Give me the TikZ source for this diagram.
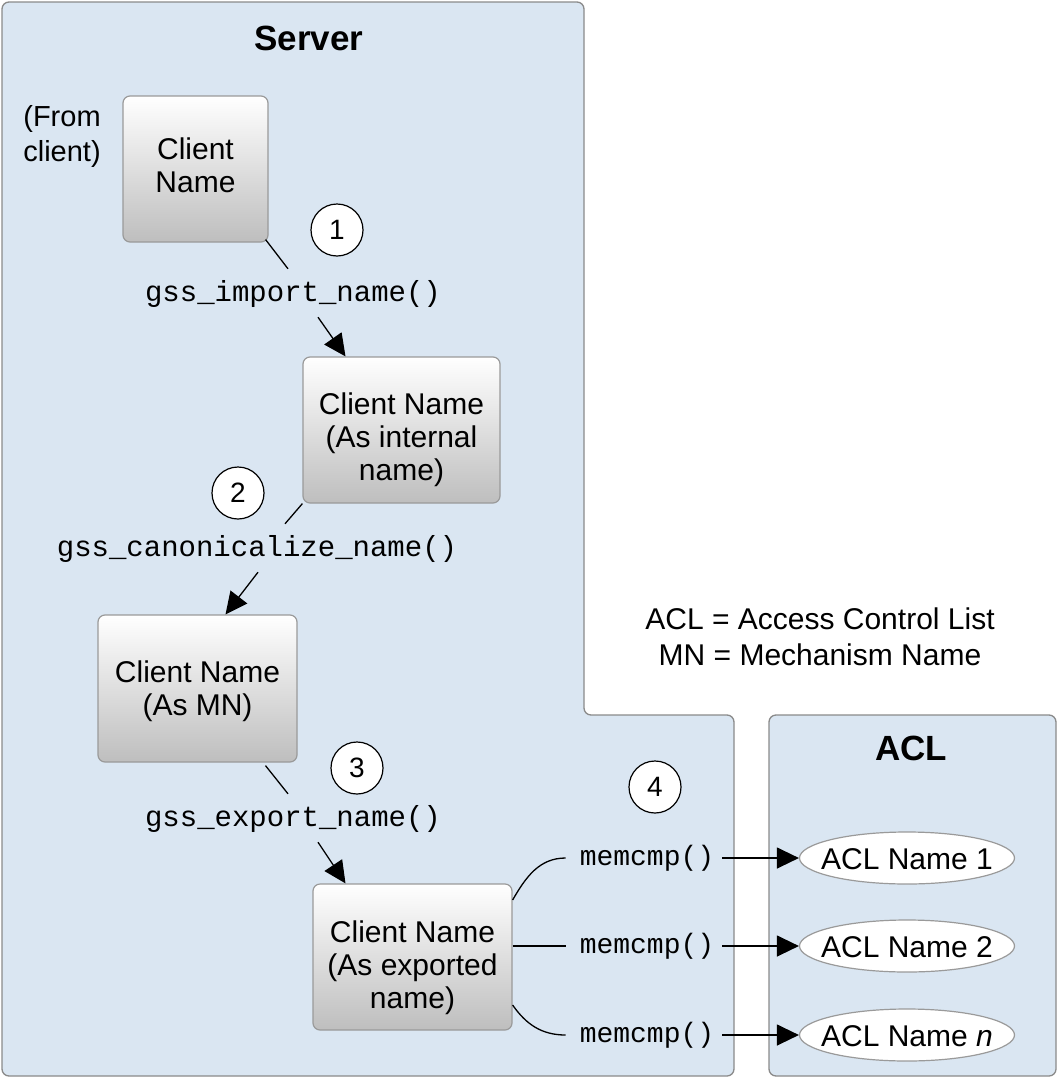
\documentclass[tikz,border=0pt]{standalone}
\usepackage{fontspec}
\setmainfont{Liberation Sans}
\setmonofont{Liberation Mono}
\usetikzlibrary{arrows.meta,shapes.geometric}
\definecolor{bgblue}{HTML}{DAE6F2}
\definecolor{framegray}{HTML}{8A8A8A}
\definecolor{boxedge}{HTML}{9A9A9A}
\definecolor{boxbot}{HTML}{BEBEBE}
\begin{document}
\begin{tikzpicture}[x=1pt,y=-1pt,
  region/.style={fill=bgblue,draw=framegray,line width=1.3pt,rounded corners=7pt},
  namebox/.style={rectangle,rounded corners=7pt,draw=boxedge,line width=1.2pt,
    top color=white,bottom color=boxbot,inner sep=0pt},
  boxtext/.style={align=center,font=\fontsize{30}{33}\selectfont,inner sep=0pt},
  fnlabel/.style={font=\ttfamily\fontsize{29}{33}\selectfont,inner sep=0pt,
    text height=20pt,text depth=6pt},
  cmplabel/.style={font=\ttfamily\fontsize{28}{33}\selectfont,inner sep=0pt,
    text height=20pt,text depth=6pt},
  stepnum/.style={circle,draw=black,fill=white,line width=1.2pt,minimum size=52pt,
    inner sep=0pt,font=\fontsize{28}{30}\selectfont},
  aclname/.style={ellipse,draw=boxedge,fill=white,line width=1.2pt,minimum width=215pt,
    minimum height=52pt,inner sep=0pt,text height=2pt,text depth=0pt,
    font=\fontsize{30}{33}\selectfont},
  conn/.style={draw=black,line width=1.3pt},
  arr/.style={draw=black,line width=1.3pt,-{Triangle[length=22pt,width=21pt]}},
  titletext/.style={font=\bfseries\fontsize{35}{40}\selectfont},
  plaintext/.style={align=center,font=\fontsize{30}{36}\selectfont}
]
\useasboundingbox (0,0) rectangle (1058,1079);
% regions
\path[region] (2,2) -- (584,2) -- (584,715) -- (734,715) -- (734,1076) -- (2,1076) -- cycle;
\path[region] (769,715) rectangle (1056,1076);
\node[titletext] (servertitle) at (309,38) {Server};
\node[titletext] (acltitle) at (911,748) {ACL};

% boxes
\node[namebox,minimum width=145pt,minimum height=146pt] (b1) at (195.5,169) {};
\node[namebox,minimum width=197pt,minimum height=146pt] (b2) at (401.5,430) {};
\node[namebox,minimum width=199pt,minimum height=147pt] (b3) at (197.5,688.5) {};
\node[namebox,minimum width=199pt,minimum height=146pt] (b4) at (412.5,957) {};
\node[boxtext] (t1) at ([yshift=4pt]b1.center) {Client\\Name};
\node[boxtext] (t2) at ([yshift=-10pt]b2.center) {Client Name\\(As internal\\name)};
\node[boxtext] (t3) at ([yshift=-3pt]b3.center) {Client Name\\(As MN)};
\node[boxtext] (t4) at ([yshift=-11pt]b4.center) {Client Name\\(As exported\\name)};

\node[align=center,font=\fontsize{29}{35}\selectfont,inner sep=0pt] (from) at (62,136) {(From\\client)};

% step circles
\node[stepnum] (s1) at (337,230) {1};
\node[stepnum] (s2) at (238,493) {2};
\node[stepnum] (s3) at (357,768) {3};
\node[stepnum] (s4) at (655,787) {4};

% function labels
\node[fnlabel] (g1) at (293,294) {gss\_import\_name()};
\node[fnlabel] (g2) at (257,549) {gss\_canonicalize\_name()};
\node[fnlabel] (g3) at (293,819) {gss\_export\_name()};

% connectors
\draw[conn] ([xshift=-3pt,yshift=3pt]b1.south east) -- ([xshift=-5pt,yshift=12pt]g1.north);
\draw[arr] ([xshift=25pt,yshift=-10pt]g1.south) -- ([xshift=-56pt]b2.north);
\draw[conn] (b2.south west) -- ([xshift=28pt,yshift=12pt]g2.north);
\draw[arr] ([xshift=1pt,yshift=-10pt]g2.south) -- ([xshift=28pt]b3.north);
\draw[conn] ([xshift=68pt,yshift=-3pt]b3.south) -- ([xshift=-5pt,yshift=12pt]g3.north);
\draw[arr] ([xshift=25pt,yshift=-10pt]g3.south) -- ([xshift=-67pt]b4.north);

% memcmp
\node[cmplabel] (m1) at (647,858) {memcmp()};
\node[cmplabel] (m2) at (647,946) {memcmp()};
\node[cmplabel] (m3) at (647,1035) {memcmp()};

\node[aclname] (e1) at (907,858) {\makebox[0pt]{\raisebox{-10pt}{ACL Name 1}}};
\node[aclname] (e2) at (907,946) {\makebox[0pt]{\raisebox{-10pt}{ACL Name 2}}};
\node[aclname] (e3) at (907,1035) {\makebox[0pt]{\raisebox{-10pt}{ACL Name \textit{n}}}};

\draw[conn] ([yshift=57pt]b4.east) to[out=60,in=180] ([xshift=-14pt]m1.west);
\draw[conn] (b4.east |- m2.west) -- ([xshift=-14pt]m2.west);
\draw[conn] ([yshift=-48pt]b4.east) to[out=-55,in=180] ([xshift=-14pt]m3.west);

\draw[arr] ([xshift=8pt]m1.east) -- (e1.west);
\draw[arr] ([xshift=8pt]m2.east) -- (e2.west);
\draw[arr] ([xshift=8pt]m3.east) -- (e3.west);

% legend
\node[plaintext] (legend) at (820,637) {ACL = Access Control List\\MN = Mechanism Name};
\end{tikzpicture}
\end{document}
